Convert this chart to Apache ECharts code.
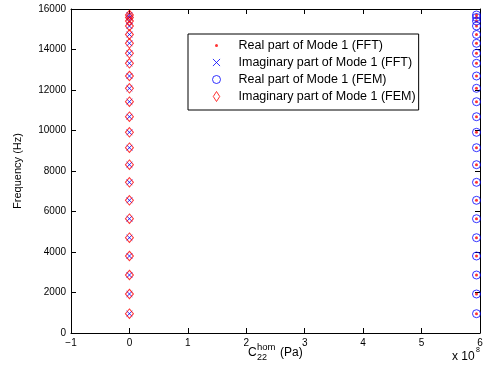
<!DOCTYPE html>
<html lang="en">
<head>
  <meta charset="UTF-8">
  <title>Mode 1</title>
  <style>
    html, body { margin: 0; padding: 0; background: #fff; }
  </style>
</head>
<body>
  <div id="main" style="width: 489px; height: 378px"></div>
  <script src="https://cdn.jsdelivr.net/npm/echarts@6/dist/echarts.min.js"></script>
  <script>
    // frequencies (Hz), same for FFT and FEM
    const freqHz = [953, 1926, 2864, 3802, 4706, 5644, 6553, 7442, 8311, 9151, 9911,
      10681, 11422, 12084, 12691, 13318, 13812, 14306, 14741, 15160, 15407, 15580, 15704]
    // C22 hom value (Pa) of each part
    const realPartPa = 5.94e8
    const imagPartPa = 0
    const seriesNames = [
      'Real part of Mode 1 (FFT)',
      'Imaginary part of Mode 1 (FFT)',
      'Real part of Mode 1 (FEM)',
      'Imaginary part of Mode 1 (FEM)'
    ]
    const xTicks = [-1e8, 0, 1e8, 2e8, 3e8, 4e8, 5e8, 6e8]

    const font = 'Liberation Sans, Arial, sans-serif'
    // symbols padded with empty moveTo's so they keep their size in the legend
    const dotPath = 'path://M0 0M10 10M3.5 5a1.5 1.5 0 1 0 3 0a1.5 1.5 0 1 0 -3 0Z'
    const crossPath = 'path://M-2 -2M12 12M0 0L10 10M10 0L0 10'
    const ringPath = 'path://M0 0M10 10M1 5a4 4 0 1 0 8 0a4 4 0 1 0 -8 0Z'
    const diamondPath = 'path://M5 0L8.4 5.3L5 10.6L1.6 5.3Z'

    const realPts = freqHz.map(f => [realPartPa, f])
    const imagPts = freqHz.map(f => [imagPartPa, f])

    const myChart = echarts.init(document.getElementById('main'))

    const axisCommon = {
      axisLine: { show: true, onZero: false, lineStyle: { color: '#000', width: 1 } },
      axisTick: { show: true, inside: true, length: 5, lineStyle: { color: '#000' } },
      splitLine: { show: false },
      axisLabel: { color: '#000', fontSize: 10, fontFamily: font }
    }

    function txt(x, y, text, size) {
      return {
        type: 'text', x: x, y: y,
        style: { text: text, fontSize: size, fontFamily: font, fill: '#000', align: 'left', verticalAlign: 'middle' }
      }
    }

    const option = {
      animation: false,
      grid: { left: 71, right: 9, top: 9, bottom: 45 },
      legend: {
        orient: 'vertical',
        left: 188,
        top: 34,
        selectedMode: false,
        data: [
          { name: seriesNames[0], icon: dotPath },
          { name: seriesNames[1], icon: crossPath },
          { name: seriesNames[2], icon: ringPath },
          { name: seriesNames[3], icon: diamondPath }
        ],
        itemWidth: 10,
        itemHeight: 10,
        itemGap: 4,
        padding: [5, 3, 7, 23],
        borderColor: '#000',
        borderWidth: 1,
        backgroundColor: '#fff',
        itemStyle: { borderWidth: 1 },
        textStyle: { color: '#000', fontSize: 12.5, fontFamily: font, lineHeight: 10, padding: [0, 0, 0, 12] }
      },
      xAxis: [
        Object.assign({}, axisCommon, {
          type: 'value', min: -1e8, max: 6e8, interval: 1e8, position: 'bottom',
          axisLabel: Object.assign({}, axisCommon.axisLabel, {
            margin: 5,
            formatter: v => (xTicks.includes(v) ? String(Math.round(v / 1e8)).replace('-', '\u2212') : '')
          })
        }),
        Object.assign({}, axisCommon, {
          type: 'value', min: -1e8, max: 6e8, interval: 1e8, position: 'top',
          axisLabel: { show: false }
        })
      ],
      yAxis: [
        Object.assign({}, axisCommon, {
          type: 'value', min: 0, max: 16000, interval: 2000, position: 'left',
          name: 'Frequency (Hz)', nameLocation: 'middle', nameGap: 48,
          nameTextStyle: { color: '#000', fontSize: 11, fontFamily: font },
          axisLabel: Object.assign({}, axisCommon.axisLabel, { margin: 5, formatter: v => String(v) })
        }),
        Object.assign({}, axisCommon, {
          type: 'value', min: 0, max: 16000, interval: 2000, position: 'right',
          axisLabel: { show: false }
        })
      ],
      graphic: [
        txt(248, 352.5, 'C', 12),
        txt(257, 347.5, 'hom', 9.5),
        txt(257, 358, '22', 9),
        txt(280, 352.5, '(Pa)', 12),
        txt(452, 356.5, 'x 10', 12),
        txt(476, 350, '8', 7)
      ],
      series: [
        {
          name: seriesNames[0], type: 'scatter', data: realPts,
          symbol: dotPath, symbolSize: 10,
          itemStyle: { color: '#ff0000' }
        },
        {
          name: seriesNames[1], type: 'scatter', data: imagPts,
          symbol: crossPath, symbolSize: 8,
          itemStyle: { color: 'rgba(0,0,0,0)', borderColor: '#0000ff', borderWidth: 1 }
        },
        {
          name: seriesNames[2], type: 'scatter', data: realPts,
          symbol: ringPath, symbolSize: 10,
          itemStyle: { color: 'rgba(0,0,0,0)', borderColor: '#0000ff', borderWidth: 1 }
        },
        {
          name: seriesNames[3], type: 'scatter', data: imagPts,
          symbol: 'diamond', symbolSize: [8, 9.5],
          itemStyle: { color: 'rgba(0,0,0,0)', borderColor: '#ff0000', borderWidth: 1 }
        }
      ]
    }

    myChart.setOption(option)
  </script>
</body>
</html>
